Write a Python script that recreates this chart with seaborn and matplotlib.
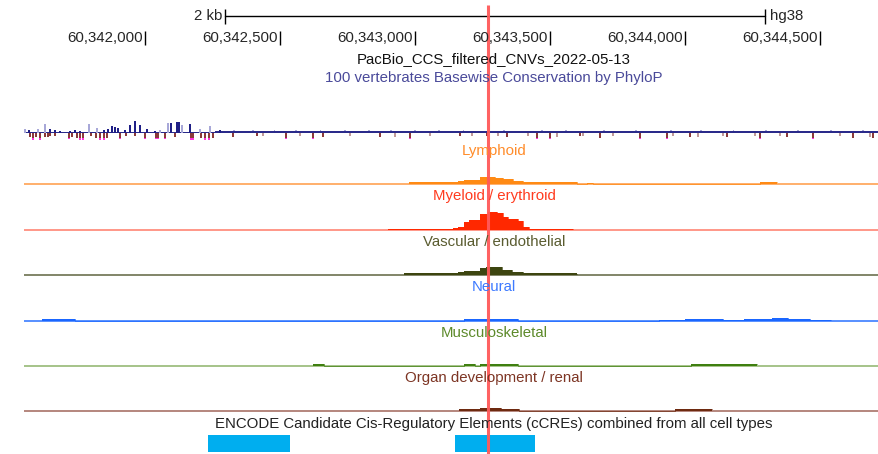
import matplotlib
matplotlib.use("Agg")
import matplotlib.pyplot as plt
import seaborn as sns
import numpy as np

# ---------------------------------------------------------
# Daten (Genomkoordinaten, hg38)
# ---------------------------------------------------------
view_start = 60341463
view_end = 60344719
track_start = 60341552
ruler_ticks = [60342000, 60342500, 60343000, 60343500, 60344000, 60344500]
ruler_labels = ["60,342,000", "60,342,500", "60,343,000", "60,343,500", "60,344,000", "60,344,500"]
scalebar = [60342296, 60344296]
highlight_pos = 60343270

# PhyloP: positive Ausschläge (Position, Höhe, hell?)
cons_pos_x = [60341556, 60341570, 60341604, 60341630, 60341648, 60341667, 60341685, 60341722,
              60341741, 60341759, 60341793, 60341822, 60341848, 60341863, 60341878, 60341889,
              60341900, 60341926, 60341944, 60341963, 60341981, 60342007, 60342037, 60342056,
              60342085, 60342096, 60342119, 60342126, 60342137, 60342167, 60342204, 60342241,
              60342278]
cons_pos_y = [4, 3, 4, 9, 4, 3, 2, 2, 3, 2, 9, 5, 3, 4, 7, 6, 5, 3, 8, 12, 8, 4, 2, 3,
              10, 10, 11, 11, 8, 9, 4, 7, 3]
cons_pos_light = [1, 0, 1, 1, 0, 0, 0, 0, 0, 0, 1, 1, 0, 0, 0, 0, 0, 0, 0, 0, 0, 0, 0, 1,
                  1, 0, 0, 0, 1, 0, 1, 1, 0]
cons_bg_edges = [60341552, 60342260, 60344719]
cons_bg_vals = [0.9, 2.0]
cons_lav_x = [60342330, 60342400, 60342480, 60342560, 60342650, 60342740, 60342830, 60342910,
              60343000, 60343090, 60343180, 60343330, 60343470, 60343560, 60343700, 60343820,
              60343950, 60344060, 60344180, 60344300, 60344420, 60344540, 60344660]
cons_lav_y = [3, 3.5, 3, 3, 3.5, 3, 3, 3.5, 3, 3, 3.5, 3, 3, 3.5, 3, 3, 3, 3.5, 3, 3, 3.5, 3, 3]

# PhyloP: negative Ausschläge (Position, Tiefe)
cons_neg_x = [60341574, 60341585, 60341596, 60341611, 60341630, 60341641, 60341648, 60341667,
              60341719, 60341730, 60341748, 60341759, 60341770, 60341800, 60341819, 60341833,
              60341848, 60341859, 60341907, 60341930, 60341963, 60342000, 60342041, 60342048,
              60342074, 60342111, 60342170, 60342178, 60342207, 60342222, 60342237, 60342252,
              60342326, 60342415, 60342522, 60342622, 60342659, 60342870, 60342981, 60343167,
              60343267, 60343341, 60343452, 60343500, 60343611, 60343685, 60343833, 60343933,
              60344019, 60344156, 60344278, 60344378, 60344474, 60344622, 60344696]
cons_neg_y = [4, 7, 4, 7, 4, 4, 3, 3, 6, 4, 5, 7, 7, 3, 5, 7, 7, 5, 6, 3, 3, 6, 6, 6,
              6, 4, 7, 7, 5, 7, 7, 5, 4, 3, 6, 6, 4, 4, 6, 3, 3, 4, 6, 6, 3, 5, 6, 6,
              4, 4, 6, 4, 6, 5, 5]
cons_neg_light_x = [60342437, 60342574, 60342759, 60342926, 60343056, 60343211, 60343307,
                    60343419, 60343526, 60343622, 60343733, 60343956, 60344048, 60344141,
                    60344259, 60344352, 60344574, 60344685]
cons_neg_light_y = [3, 3, 3, 4, 3, 3, 3, 3, 4, 3, 3, 3, 4, 3, 3, 3, 3, 4]

# Zelltyp-Signale (Stufen: Kanten + Werte)
lymph_edges = [60342978, 60343159, 60343181, 60343241, 60343296, 60343326, 60343363, 60343400,
               60343600, 60343637, 60343659, 60344278, 60344341]
lymph_vals = [1.8, 3, 4.5, 7, 6.5, 5, 3.5, 1.6, 0, 1.5, 0, 1.8]

myelo_edges = [60342900, 60343141, 60343159, 60343181, 60343200, 60343241, 60343270, 60343304,
               60343326, 60343344, 60343381, 60343400, 60343422, 60343585]
myelo_vals = [1.5, 2, 3.5, 8.5, 10.5, 16.5, 18.5, 17.3, 13.3, 11.3, 8.7, 3.3, 1.5]

vasc_edges = [60342959, 60343159, 60343181, 60343241, 60343263, 60343322, 60343359, 60343400,
              60343600]
vasc_vals = [1.5, 2.5, 4, 6.7, 8, 5.3, 3.3, 1.5]

neural_edges = [60341619, 60341741, 60343181, 60343381, 60343904, 60344000, 60344141, 60344219,
                60344322, 60344381, 60344463, 60344541]
neural_vals = [2, 0, 2, 0, 1.5, 2.5, 1.5, 2.5, 3.5, 2.5, 1.5]

musc_edges = [60342622, 60342663, 60343181, 60343222, 60343241, 60343381, 60344022, 60344267]
musc_vals = [2, 0, 2, 0, 2, 0, 2]

organ_edges = [60343163, 60343241, 60343319, 60343385, 60343963, 60344100]
organ_vals = [2, 3, 2, 0, 2]

ccre_start = [60342233, 60343148]
ccre_end = [60342537, 60343444]

# ---------------------------------------------------------
# Plot
# ---------------------------------------------------------
W, H = 879, 454
sns.set_theme(style="white")
plt.rcParams['font.family'] = ['Liberation Sans', 'DejaVu Sans']

fig = plt.figure(figsize=(W / 100, H / 100), dpi=100)
FS = 10.8


def track_axes(base, up, down):
    ax = fig.add_axes([0, 1 - (base + down) / H, 1, (up + down) / H])
    ax.set_xlim(view_start, view_end)
    ax.set_ylim(-down, up)
    ax.axis("off")
    return ax


def label(text, y, color):
    fig.text(494 / W, 1 - y / H, text, ha="center", va="center", fontsize=FS, color=color)


def signal_track(edges, vals, base, color, line_color, up=22):
    ax = track_axes(base, up, 2)
    x = np.array(edges)
    y = np.array(vals + [vals[-1]])
    ax.hlines(0, track_start, view_end, color=line_color, lw=1.1, zorder=1)
    ax.fill_between(x, 0, y, step="post", color=color, lw=0, zorder=2)
    sns.lineplot(x=x, y=y, drawstyle="steps-post", color=color, lw=0.5,
                 estimator=None, sort=False, ax=ax, zorder=3)
    ax.set_xlim(view_start, view_end)
    ax.set_ylim(-2, up)
    ax.axis("off")
    return ax


# Überschriften
label("PacBio_CCS_filtered_CNVs_2022-05-13", 59, "#111111")
label("100 vertebrates Basewise Conservation by PhyloP", 78, "#4a4a9a")

# Konservierung
axc = track_axes(133, 14, 9)
lneg = np.array(cons_neg_light_y, dtype=float)
axc.bar(cons_neg_light_x, -lneg, width=7, color="#c09a9a", lw=0)
axc.bar(cons_lav_x, cons_lav_y, width=7, color="#a8a8d8", lw=0)
bg_x = np.array(cons_bg_edges)
bg_y = np.array(cons_bg_vals + [cons_bg_vals[-1]])
axc.fill_between(bg_x, 0, bg_y, step="post", color="#2a2a8a", lw=0)
pos_cols = ["#a8a8d8" if l else "#1f1f86" for l in cons_pos_light]
axc.bar(cons_pos_x, cons_pos_y, width=6, color=pos_cols, lw=0, align="center")
neg = np.array(cons_neg_y, dtype=float)
axc.bar(cons_neg_x, -np.minimum(neg, 4.5), width=7, color="#8a3a3a", lw=0)
clip = neg > 4.5
axc.bar(np.array(cons_neg_x)[clip], -(neg[clip] - 4.5), bottom=-4.5, width=7,
        color="#ff33dd", lw=0)

# Zelltypen
label("Lymphoid", 151, "#ff8c2a")
signal_track(lymph_edges, lymph_vals, 184, "#ff8a14", "#ff9a44")
label("Myeloid / erythroid", 196, "#ff3b1f")
signal_track(myelo_edges, myelo_vals, 230, "#ff2800", "#ff7a68")
label("Vascular / endothelial", 242, "#5a5c30")
signal_track(vasc_edges, vasc_vals, 275, "#3d4510", "#5f6540")
label("Neural", 287, "#3d7aff")
signal_track(neural_edges, neural_vals, 321, "#1a66ff", "#2a72ff")
label("Musculoskeletal", 333, "#5d8a2a")
signal_track(musc_edges, musc_vals, 366, "#3f7f10", "#8db36a")
label("Organ development / renal", 378, "#7d3524")
signal_track(organ_edges, organ_vals, 411, "#6e2a10", "#a0665a")

# ENCODE cCREs
label("ENCODE Candidate Cis-Regulatory Elements (cCREs) combined from all cell types", 424, "#222222")
axe = track_axes(452, 17, 0)
axe.barh([0.5, 0.5], np.array(ccre_end) - np.array(ccre_start), left=ccre_start, height=1,
         color="#00aeef", lw=0)
axe.set_ylim(0, 1)

# Lineal und Markierung oben drauf
ax0 = fig.add_axes([0, 0, 1, 1])
ax0.set_xlim(view_start, view_end)
ax0.set_ylim(H, 0)
ax0.axis("off")
ax0.patch.set_alpha(0)

ax0.plot(scalebar, [16, 16], color="black", lw=1)
ax0.vlines(scalebar, 9, 24, color="black", lw=1)
ax0.text(scalebar[0] - 10, 16, "2 kb", ha="right", va="center", fontsize=FS)
ax0.text(scalebar[1] + 20, 16, "hg38", ha="left", va="center", fontsize=FS)

ax0.vlines(ruler_ticks, 31, 45, color="black", lw=1)
for t, lab in zip(ruler_ticks, ruler_labels):
    ax0.text(t - 8, 38, lab, ha="right", va="center", fontsize=FS)

ax0.vlines([highlight_pos], 5, H, color="#ff5a5a", lw=2.2, alpha=0.95)

fig.savefig("out.png", dpi=100)
plt.close(fig)
